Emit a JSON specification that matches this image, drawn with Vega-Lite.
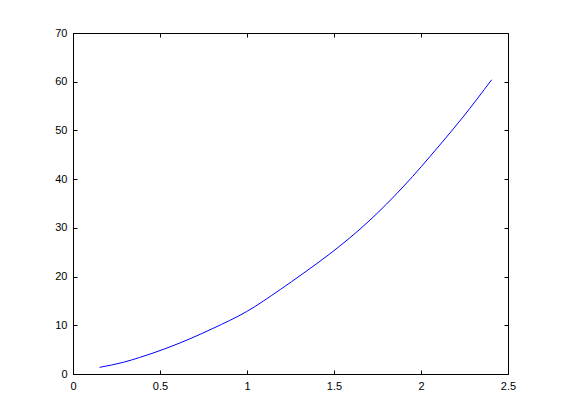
{
  "$schema": "https://vega.github.io/schema/vega-lite/v6.json",
  "autosize": "none",
  "width": 435,
  "height": 341,
  "padding": {"left": 73, "top": 33, "right": 53, "bottom": 46},
  "background": "white",
  "config": {
    "view": {"stroke": "black", "strokeWidth": 1},
    "axis": {
      "grid": false,
      "domainColor": "black",
      "tickColor": "black",
      "labelColor": "black",
      "labelFont": "Liberation Sans",
      "labelFontSize": 11,
      "title": null,
      "tickSize": -4,
      "domainWidth": 1,
      "tickWidth": 1
    }
  },
  "data": {
    "values": [
      {"x": 0.153, "y": 1.37},
      {"x": 0.289, "y": 2.4},
      {"x": 0.382, "y": 3.38},
      {"x": 0.669, "y": 7.18},
      {"x": 0.805, "y": 9.37},
      {"x": 0.996, "y": 12.78},
      {"x": 1.191, "y": 17.33},
      {"x": 1.321, "y": 20.6},
      {"x": 1.472, "y": 24.55},
      {"x": 1.701, "y": 31.4},
      {"x": 1.902, "y": 38.6},
      {"x": 2.103, "y": 46.8},
      {"x": 2.238, "y": 52.6},
      {"x": 2.406, "y": 60.4}
    ]
  },
  "resolve": {"axis": {"x": "independent", "y": "independent"}},
  "layer": [
    {
      "mark": {"type": "line", "color": "#0000ff", "strokeWidth": 1, "interpolate": "monotone"},
      "encoding": {
        "x": {"field": "x", "type": "quantitative", "scale": {"domain": [0, 2.5], "nice": false},
              "axis": {"orient": "bottom", "values": [0, 0.5, 1, 1.5, 2, 2.5], "format": "~r", "labelPadding": 10, "labelFlush": false}},
        "y": {"field": "y", "type": "quantitative", "scale": {"domain": [0, 70], "nice": false},
              "axis": {"orient": "left", "values": [0, 10, 20, 30, 40, 50, 60, 70], "labelPadding": 10}}
      }
    },
    {
      "mark": {"type": "line", "opacity": 0},
      "encoding": {
        "x": {"field": "x", "type": "quantitative",
              "axis": {"orient": "top", "values": [0, 0.5, 1, 1.5, 2, 2.5], "labels": false}},
        "y": {"field": "y", "type": "quantitative",
              "axis": {"orient": "right", "values": [0, 10, 20, 30, 40, 50, 60, 70], "labels": false}}
      }
    }
  ]
}
